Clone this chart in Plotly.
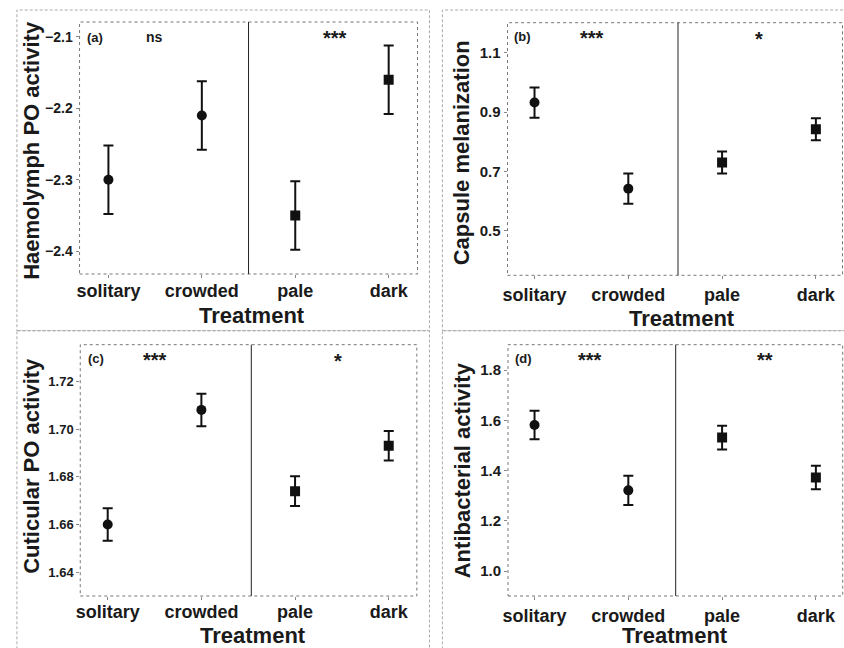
import plotly.graph_objects as go

W, H = 844, 648

categories = ["solitary", "crowded", "pale", "dark"]
x_pos = [0, 1, 2, 3]

# panel values (means and standard errors)
haemolymph_mean = [-2.300, -2.210, -2.350, -2.160]
haemolymph_err = [0.048, 0.048, 0.048, 0.048]
capsule_mean = [0.932, 0.642, 0.730, 0.842]
capsule_err = [0.051, 0.051, 0.037, 0.037]
cuticular_mean = [1.660, 1.708, 1.674, 1.693]
cuticular_err = [0.0068, 0.0068, 0.0062, 0.0062]
antibacterial_mean = [1.581, 1.321, 1.531, 1.372]
antibacterial_err = [0.057, 0.058, 0.047, 0.047]

haemolymph_ticks = [-2.4, -2.3, -2.2, -2.1]
capsule_ticks = [0.5, 0.7, 0.9, 1.1]
cuticular_ticks = [1.64, 1.66, 1.68, 1.70, 1.72]
antibacterial_ticks = [1.0, 1.2, 1.4, 1.6, 1.8]

y_titles = ["Haemolymph PO activity", "Capsule melanization",
            "Cuticular PO activity", "Antibacterial activity"]
x_title = "Treatment"
panel_labels = ["(a)", "(b)", "(c)", "(d)"]
sig_density = ["ns", "***", "***", "***"]
sig_colour = ["***", "*", "*", "**"]

FONT = "Liberation Sans, Arial, sans-serif"


def fx(x):
    return x / W


def fy(y):
    return 1 - y / H


panels = [
    dict(means=haemolymph_mean, errs=haemolymph_err, ticks=haemolymph_ticks, fmt=".1f",
         px=(75, 415), py=(22, 274), yr=(-2.432, -2.079), xr=(-0.309, 3.309), div=1.5,
         ytf=14, ytitle=(26, 150), xtitle=(248, 315), lab=(80, 37), s1=(150, 37), s2=(332, 38),
         standoff=-3),
    dict(means=capsule_mean, errs=capsule_err, ticks=capsule_ticks, fmt=".1f",
         px=(505.5, 842.5), py=(22.7, 275.3), yr=(0.350, 1.201), xr=(-0.288, 3.284), div=1.53,
         ytf=15, ytitle=(459, 153), xtitle=(681, 318), lab=(510, 36), s1=(590, 38), s2=(758, 39),
         standoff=0),
    dict(means=cuticular_mean, errs=cuticular_err, ticks=cuticular_ticks, fmt=".2f",
         px=(75.7, 414.3), py=(344.7, 596), yr=(1.6301, 1.7353), xr=(-0.293, 3.30), div=1.533,
         ytf=13, ytitle=(26, 466), xtitle=(249, 635), lab=(81, 358), s1=(151, 360), s2=(335, 361),
         standoff=-4),
    dict(means=antibacterial_mean, errs=antibacterial_err, ticks=antibacterial_ticks, fmt=".1f",
         px=(506, 842.7), py=(344.7, 596), yr=(0.9005, 1.9007), xr=(-0.283, 3.286), div=1.505,
         ytf=15, ytitle=(460, 470), xtitle=(674, 635), lab=(511, 358), s1=(588, 360), s2=(765, 360),
         standoff=0),
]

fig = go.Figure()
layout = dict(
    width=W, height=H, margin=dict(l=0, r=0, t=0, b=0),
    paper_bgcolor="white", plot_bgcolor="white", showlegend=False,
    font=dict(family=FONT, color="#1a1a1a"),
)
shapes = []
annotations = []


def sig_font(txt):
    # asterisks are drawn larger than the "ns" label
    return 20 if "*" in txt else 14


for i, p in enumerate(panels):
    n = i + 1
    xa = "x" if n == 1 else f"x{n}"
    ya = "y" if n == 1 else f"y{n}"
    xkey = "xaxis" if n == 1 else f"xaxis{n}"
    ykey = "yaxis" if n == 1 else f"yaxis{n}"

    # circles: density treatments
    fig.add_trace(go.Scatter(
        x=x_pos[:2], y=p["means"][:2], mode="markers", xaxis=xa, yaxis=ya,
        marker=dict(symbol="circle", size=10, color="#111"),
        error_y=dict(type="data", array=p["errs"][:2], color="#111", thickness=2, width=5),
    ))
    # squares: colour treatments
    fig.add_trace(go.Scatter(
        x=x_pos[2:], y=p["means"][2:], mode="markers", xaxis=xa, yaxis=ya,
        marker=dict(symbol="square", size=10, color="#111"),
        error_y=dict(type="data", array=p["errs"][2:], color="#111", thickness=2, width=5),
    ))

    layout[xkey] = dict(
        domain=[fx(p["px"][0]), fx(p["px"][1])], anchor=ya, range=list(p["xr"]),
        tickvals=x_pos, ticktext=categories, ticks="outside", ticklen=3, tickcolor="#888",
        showgrid=False, zeroline=False, showline=False,
        tickfont=dict(size=18, family=FONT, color="#1a1a1a", weight="bold"),
        ticklabelstandoff=p["standoff"],
    )
    layout[ykey] = dict(
        domain=[fy(p["py"][1]), fy(p["py"][0])], anchor=xa, range=list(p["yr"]),
        tickvals=p["ticks"], tickformat=p["fmt"], ticks="outside", ticklen=3, tickcolor="#888",
        showgrid=False, zeroline=False, showline=False,
        tickfont=dict(size=p["ytf"], family=FONT, color="#1a1a1a", weight="bold"),
    )

    # dotted plot frame
    shapes.append(dict(type="rect", xref=f"{xa} domain", yref=f"{ya} domain",
                       x0=0, x1=1, y0=0, y1=1, line=dict(color="#777", width=1, dash="dot")))
    # solid divider between density and colour treatments
    shapes.append(dict(type="line", xref=xa, yref=f"{ya} domain",
                       x0=p["div"], x1=p["div"], y0=0, y1=1, line=dict(color="#222", width=1)))

    annotations.append(dict(text=y_titles[i], xref="paper", yref="paper",
                            x=fx(p["ytitle"][0]), y=fy(p["ytitle"][1]), textangle=-90,
                            showarrow=False, xanchor="center", yanchor="middle",
                            font=dict(size=22, family=FONT, color="#1a1a1a", weight="bold")))
    annotations.append(dict(text=x_title, xref="paper", yref="paper",
                            x=fx(p["xtitle"][0]), y=fy(p["xtitle"][1]),
                            showarrow=False, xanchor="center", yanchor="middle",
                            font=dict(size=22, family=FONT, color="#1a1a1a", weight="bold")))
    annotations.append(dict(text=panel_labels[i], xref="paper", yref="paper",
                            x=fx(p["lab"][0]), y=fy(p["lab"][1]),
                            showarrow=False, xanchor="left", yanchor="middle",
                            font=dict(size=13, family=FONT, color="#1a1a1a", weight="bold")))
    annotations.append(dict(text=sig_density[i], xref="paper", yref="paper",
                            x=fx(p["s1"][0]), y=fy(p["s1"][1]),
                            showarrow=False, xanchor="center", yanchor="middle",
                            font=dict(size=sig_font(sig_density[i]), family=FONT,
                                      color="#1a1a1a", weight="bold")))
    annotations.append(dict(text=sig_colour[i], xref="paper", yref="paper",
                            x=fx(p["s2"][0]), y=fy(p["s2"][1]),
                            showarrow=False, xanchor="center", yanchor="middle",
                            font=dict(size=sig_font(sig_colour[i]), family=FONT,
                                      color="#1a1a1a", weight="bold")))

# outer dashed panel boxes
box_style = dict(color="#aaa", width=1, dash="3px,2px")
for (x0, x1, y0, y1) in [(12, 427, 10, 330.7), (440, 860, 10, 330.7),
                         (12, 427, 330.7, 670), (440, 860, 330.7, 670)]:
    shapes.append(dict(type="rect", xref="paper", yref="paper",
                       x0=fx(x0), x1=fx(x1), y0=fy(y1), y1=fy(y0), line=box_style))

layout["shapes"] = shapes
layout["annotations"] = annotations
fig.update_layout(**layout)
fig.write_html("out.html", config={"displayModeBar": False},
               post_script="document.body.style.margin='0px';"
               "document.body.style.overflow='hidden';")
